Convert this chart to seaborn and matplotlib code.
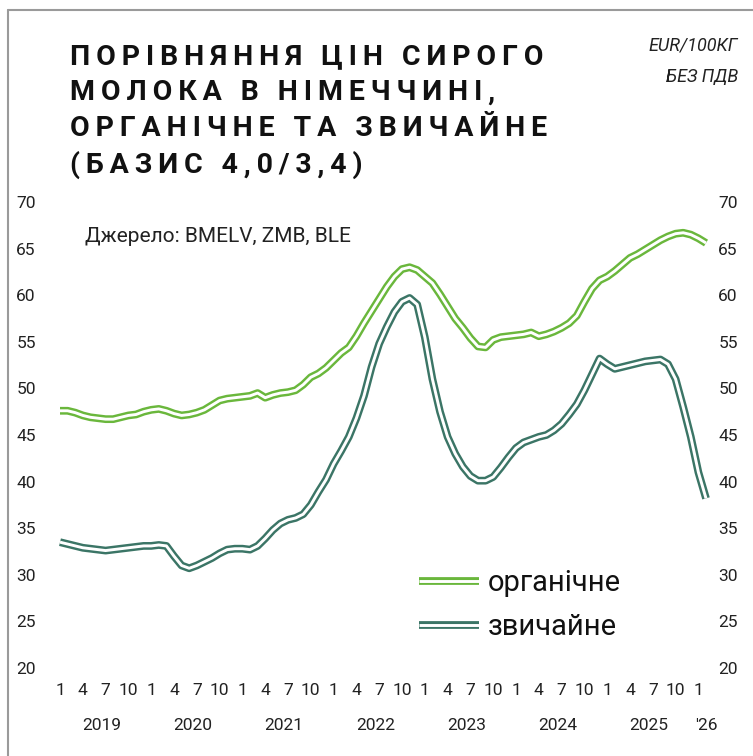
import matplotlib
matplotlib.use("Agg")
import matplotlib.pyplot as plt
import matplotlib.patheffects as pe
from matplotlib.lines import Line2D
import numpy as np
import pandas as pd
import seaborn as sns

# ---------------------------------------------------------------------------
# Data: monthly raw milk prices, EUR/100 kg, Jan 2019 .. Feb 2026
# ---------------------------------------------------------------------------

organic = [
    47.6, 47.6, 47.4, 47.1, 46.9, 46.8, 46.7, 46.7, 46.9, 47.1, 47.2, 47.5,  # 2019
    47.7, 47.8, 47.6, 47.3, 47.1, 47.2, 47.4, 47.7, 48.2, 48.7, 48.9, 49.0,  # 2020
    49.1, 49.2, 49.5, 49.0, 49.3, 49.5, 49.6, 49.8, 50.4, 51.2, 51.6, 52.2,  # 2021
    53.0, 53.8, 54.4, 55.6, 57.0, 58.3, 59.6, 60.9, 62.0, 62.8, 63.0, 62.7,  # 2022
    62.0, 61.3, 60.1, 58.8, 57.5, 56.5, 55.4, 54.5, 54.4, 55.2, 55.5, 55.6,  # 2023
    55.7, 55.8, 56.0, 55.6, 55.8, 56.1, 56.5, 57.0, 57.8, 59.3, 60.7, 61.6,  # 2024
    62.0, 62.6, 63.3, 64.0, 64.4, 64.9, 65.4, 65.9, 66.3, 66.6, 66.7, 66.5,  # 2025
    66.1, 65.6,                                                              # 2026
]

conventional = [
    33.5, 33.3, 33.1, 32.9, 32.8, 32.7, 32.6, 32.7, 32.8, 32.9, 33.0, 33.1,  # 2019
    33.1, 33.2, 33.1, 32.0, 31.0, 30.7, 31.0, 31.4, 31.8, 32.3, 32.7, 32.8,  # 2020
    32.8, 32.7, 33.1, 33.9, 34.8, 35.5, 35.9, 36.1, 36.5, 37.5, 38.9, 40.2,  # 2021
    41.9, 43.3, 44.8, 46.8, 49.2, 52.3, 54.8, 56.6, 58.2, 59.3, 59.7, 59.0,  # 2022
    55.5, 51.0, 47.5, 44.8, 43.0, 41.6, 40.6, 40.1, 40.1, 40.5, 41.5, 42.6,  # 2023
    43.6, 44.2, 44.5, 44.8, 45.0, 45.5, 46.2, 47.2, 48.3, 49.8, 51.5, 53.2,  # 2024
    52.6, 52.1, 52.3, 52.5, 52.7, 52.9, 53.0, 53.1, 52.6, 51.0, 48.0, 44.8,  # 2025
    41.0, 38.2,                                                              # 2026
]

series_names = ["органічне", "звичайне"]
series_colors = ["#6ab73c", "#3b7566"]

years = [2019, 2020, 2021, 2022, 2023, 2024, 2025]
year_labels = ["2019", "2020", "2021", "2022", "2023", "2024", "2025", "'26"]
tick_months = [1, 4, 7, 10]
y_ticks = [20, 25, 30, 35, 40, 45, 50, 55, 60, 65, 70]

title = ["ПОРІВНЯННЯ ЦІН СИРОГО", "МОЛОКА В НІМЕЧЧИНІ,",
         "ОРГАНІЧНЕ ТА ЗВИЧАЙНЕ", "(БАЗИС 4,0/3,4)"]
unit_text = "EUR/100КГ\nБЕЗ ПДВ"
source_text = "Джерело: BMELV, ZMB, BLE"

# ---------------------------------------------------------------------------
# Build long table
# ---------------------------------------------------------------------------

df = pd.concat([
    pd.DataFrame({"month": np.arange(len(organic)), "price": organic,
                  "series": series_names[0]}),
    pd.DataFrame({"month": np.arange(len(conventional)), "price": conventional,
                  "series": series_names[1]}),
], ignore_index=True)

sns.set_theme(style="white")
plt.rcParams["font.family"] = ["Roboto", "DejaVu Sans"]

W, H = 753, 756
AX_L, AX_R, AX_T, AX_B = 42, 712, 202, 668
fig = plt.figure(figsize=(W / 100, H / 100), dpi=100)
ax = fig.add_axes([AX_L / W, 1 - AX_B / H, (AX_R - AX_L) / W, (AX_B - AX_T) / H])

sns.lineplot(data=df, x="month", y="price", hue="series", hue_order=series_names,
             palette=series_colors, ax=ax, legend=False)


def double_line(color):
    return [pe.Stroke(linewidth=5.6, foreground=color, capstyle="butt"), pe.Normal()]


for line, c in zip(ax.lines, series_colors):
    line.set_color("white")
    line.set_linewidth(2.1)
    line.set_solid_capstyle("butt")
    line.set_path_effects(double_line(c))

# axes
px_per_month = 7.6
ax.set_xlim(-(60 - AX_L) / px_per_month, (AX_R - 60) / px_per_month)
ax.set_ylim(20, 70)
ax.set_yticks(y_ticks)
ax.set_yticklabels([str(v) for v in y_ticks])
ax.tick_params(axis="y", labelleft=True, labelright=True, left=False, right=False,
               length=0, labelsize=12.5, labelcolor="#222222", pad=4.5)

month_pos = [(y - 2019) * 12 + m - 1 for y in years for m in tick_months] + [84]
month_lab = [str(m) for y in years for m in tick_months] + ["1"]
ax.set_xticks(month_pos)
ax.set_xticklabels(month_lab)
ax.tick_params(axis="x", bottom=False, length=0, labelsize=12.5,
               labelcolor="#222222", pad=11)
ax.set_xlabel("")
ax.set_ylabel("")
sns.despine(ax=ax, left=True, bottom=True)

year_pos = [(y - 2019) * 12 + 5.5 for y in years] + [85.1]
for xp, lab in zip(year_pos, year_labels):
    ax.text(xp, (AX_B - 725) / (AX_B - AX_T), lab, transform=ax.get_xaxis_transform(),
            ha="center", va="center", fontsize=12.5, color="#222222")

# texts
ax.text(85 / W, 1 - 237 / H, source_text, transform=fig.transFigure,
        ha="left", va="center", fontsize=15, color="#222222")

spaced = ["\u2009".join(s) for s in title]
fig.text(70 / W, 1 - 43 / H, "\n".join(spaced), ha="left", va="top",
         fontsize=20.5, fontweight="bold", color="#111111", linespacing=1.42)

fig.text(738 / W, 1 - 37 / H, unit_text, ha="right", va="top",
         fontsize=13, fontstyle="italic", color="#222222", linespacing=1.9,
         multialignment="right")

# legend
handles = [Line2D([], [], color="white", lw=2.1, solid_capstyle="butt",
                  path_effects=double_line(c)) for c in series_colors]
ax.legend(handles, series_names, loc="upper left",
          bbox_to_anchor=(419 / W, 1 - 569 / H), bbox_transform=fig.transFigure,
          frameon=False, fontsize=21, handlelength=2.07, handletextpad=0.28,
          labelspacing=0.55, borderpad=0, borderaxespad=0,
          labelcolor="#111111")

# frame lines of the card
fig.add_artist(Line2D([8 / W, 8 / W], [0, 1 - 10 / H], transform=fig.transFigure,
                      color="#9a9a9a", lw=1.5))
fig.add_artist(Line2D([8 / W, 1], [1 - 10 / H, 1 - 10 / H], transform=fig.transFigure,
                      color="#9a9a9a", lw=1.5))

fig.savefig("out.png", dpi=100)
